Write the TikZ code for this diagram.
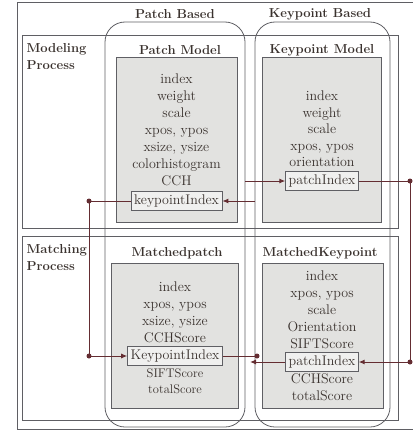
\documentclass[tikz,border=0pt]{standalone}
\usetikzlibrary{arrows.meta,positioning}
\definecolor{framegray}{RGB}{95,95,100}
\definecolor{linkred}{RGB}{100,45,50}
\definecolor{textgray}{RGB}{58,50,46}
\definecolor{boxfill}{RGB}{226,226,224}

\begin{document}
\begin{tikzpicture}[x=1pt,y=-1pt,
        column/.style={draw=framegray,rounded corners=20pt,line width=0.8pt,inner sep=0pt},
        process/.style={draw=framegray,line width=0.8pt,inner sep=0pt},
        classbox/.style={draw=framegray,fill=boxfill,line width=1pt,inner sep=0pt},
        heading/.style={text=textgray,font=\fontsize{13}{17}\selectfont\bfseries},
        field/.style={text=textgray,font=\fontsize{14}{17}\selectfont,inner sep=0pt,
            text height=10pt,text depth=3pt},
        smallfield/.style={field,font=\fontsize{12.5}{17}\selectfont},
        keyfield/.style={field,draw=framegray,fill=boxfill!50,inner sep=3pt,line width=0.8pt},
        link/.style={draw=linkred,line width=1pt},
        linkarrow/.style={link,-{Latex[length=6pt,width=5pt]}},
        dot/.style={circle,fill=linkred,inner sep=0pt,minimum size=5pt}]
    \useasboundingbox (0,0) rectangle (413,431);

    % outer frame
    \draw[process] (412.5,2) -- (17,2) -- (17,429) -- (412.5,429);

    % the two columns
    \node[column,minimum width=140pt,minimum height=405pt] (pb) at (175,224.5) {};
    \node[column,minimum width=135pt,minimum height=405pt] (kb) at (322.5,224.5) {};
    \node[heading] (pbtitle) at (175,14) {Patch Based};
    \node[heading] (kbtitle) at (320,14) {Keypoint Based};

    % the two processes
    \node[process,minimum width=376pt,minimum height=193pt] (modeling) at (210,131.5) {};
    \node[process,minimum width=376pt,minimum height=184pt] (matching) at (210,328) {};
    \node[heading,align=left,anchor=north west] (modtitle) at (23,40) {Modeling\\Process};
    \node[heading,align=left,anchor=north west] (mattitle) at (23,241) {Matching\\Process};

    % class boxes
    \node[classbox,minimum width=121pt,minimum height=165pt] (pm) at (176.5,139.5) {};
    \node[classbox,minimum width=119pt,minimum height=165pt] (km) at (321.5,139.5) {};
    \node[classbox,minimum width=127pt,minimum height=145pt] (mp) at (174.5,335.5) {};
    \node[classbox,minimum width=121pt,minimum height=145pt] (mk) at (322.5,335.5) {};
    \node[heading] (pmtitle) at (180,50) {Patch Model};
    \node[heading] (kmtitle) at (322,50) {Keypoint Model};
    \node[heading] (mptitle) at (177,253) {Matchedpatch};
    \node[heading] (mktitle) at (320,253) {MatchedKeypoint};

    % Patch Model
    \foreach \t [count=\i from 0] in {index,weight,scale,{xpos, ypos},{xsize, ysize},colorhistogram,CCH}
        \node[field] (pm\i) at (176.5,80+17*\i) {\t};
    \node[keyfield] (pmkey) at (176.5,201) {keypointIndex};

    % Keypoint Model
    \foreach \t [count=\i from 0] in {index,weight,scale,{xpos, ypos},orientation}
        \node[field] (km\i) at (322,97+16.5*\i) {\t};
    \node[keyfield] (kmkey) at (322,181) {patchIndex};

    % Matchedpatch
    \foreach \t [count=\i from 0] in {index,{xpos, ypos},{xsize, ysize},CCHScore}
        \node[field] (mp\i) at (175,288+17*\i) {\t};
    \node[keyfield] (mpkey) at (175,356) {KeypointIndex};
    \node[smallfield] (mp4) at (175,374) {SIFTScore};
    \node[smallfield] (mp5) at (175,390) {totalScore};

    % MatchedKeypoint
    \foreach \t [count=\i from 0] in {index,{xpos, ypos},scale,Orientation,SIFTScore}
        \node[field] (mk\i) at (322,277+17*\i) {\t};
    \node[keyfield] (mkkey) at (322,362) {patchIndex};
    \node[field] (mk5) at (322,380) {CCHScore};
    \node[field] (mk6) at (322,397) {totalScore};

    % links between the index fields
    \coordinate (rx) at (410,0);
    \coordinate (lx) at (89,0);
    \coordinate (mx) at (257,0);
    \coordinate (nx) at (250,0);
    \draw[linkarrow] (pb.east |- kmkey.west) -- (kmkey.west);
    \draw[linkarrow] (kmkey.east) -- (kmkey.east -| rx) -- (mkkey.east -| rx) -- (mkkey.east);
    \draw[linkarrow] (kb.west |- pmkey.east) -- (pmkey.east);
    \draw[linkarrow] (pmkey.west) -- (pmkey.west -| lx) -- (mpkey.west -| lx) -- (mpkey.west);
    \draw[link] (mpkey.east) -- (mpkey.east -| mx);
    \draw[linkarrow] (mkkey.west) -- (mkkey.west -| nx);
    \node[dot] (d1) at (kmkey.east -| rx) {};
    \node[dot] (d2) at (mkkey.east -| rx) {};
    \node[dot] (d3) at (pmkey.west -| lx) {};
    \node[dot] (d4) at (mpkey.west -| lx) {};
    \node[dot] (d5) at (mpkey.east -| mx) {};
\end{tikzpicture}
\end{document}
